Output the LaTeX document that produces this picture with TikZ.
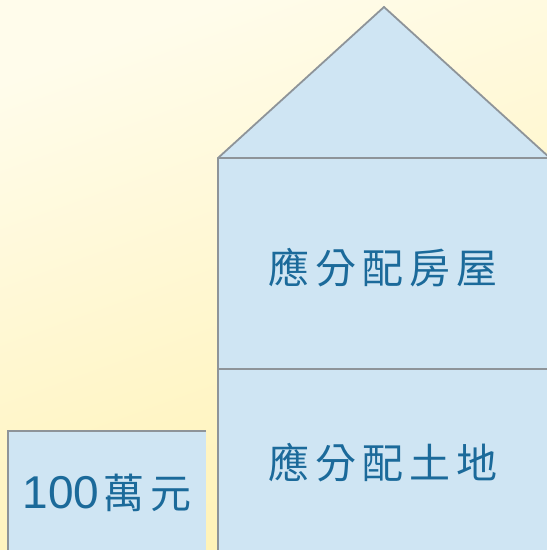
\documentclass[tikz,border=0pt]{standalone}
\usepackage{fontspec}
\newfontfamily\cjk{Noto Sans CJK TC}
\newfontfamily\latn{Liberation Sans}
\definecolor{bgtop}{HTML}{FFFCEB}
\definecolor{bgbot}{HTML}{FFF2B4}
\definecolor{boxfill}{HTML}{CFE5F3}
\definecolor{boxline}{HTML}{8E9499}
\definecolor{txt}{HTML}{1B6A9A}
\tikzset{
  panel/.style={fill=boxfill},
  edge/.style={draw=boxline,line width=1.8pt},
  label/.style={text=txt,inner sep=0pt,font=\cjk\fontsize{41}{45}\selectfont}
}
\newcommand\gapk{\hspace{6pt}}
\begin{document}
\begin{tikzpicture}[x=1pt,y=-1pt]
\useasboundingbox (0,0) rectangle (547,550);
\shade[top color=bgtop,bottom color=bgbot,shading angle=20] (0,0) rectangle (547,550);
% small box
\fill[panel] (8,431) rectangle (206,552);
\draw[edge] (206,431) -- (8,431) -- (8,552);
% house
\fill[panel] (218,552) -- (218,158) -- (384,7) -- (550,158) -- (550,552) -- cycle;
\draw[edge] (218,552) -- (218,158) -- (384,7) -- (550,158);
\draw[edge] (218,158) -- (550,158);
\draw[edge] (218,369) -- (550,369);
\node[label] (house) at (383,268) {應\gapk 分\gapk 配\gapk 房\gapk 屋};
\node[label] (land) at (383,463) {應\gapk 分\gapk 配\gapk 土\gapk 地};
\node[label] (money) at (107,493) {{\latn\fontsize{46}{50}\selectfont 100}\hspace{4pt}萬\gapk 元};
\end{tikzpicture}
\end{document}
